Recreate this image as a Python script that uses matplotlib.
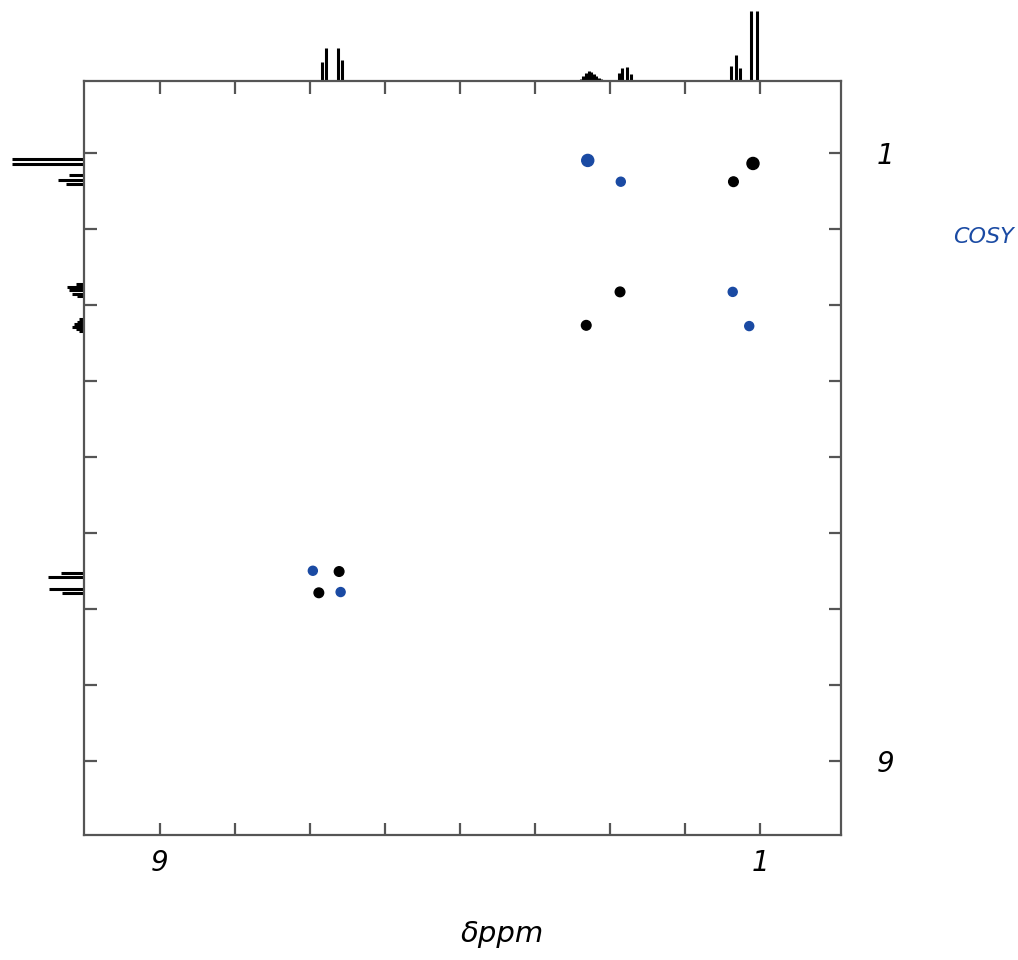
import matplotlib
matplotlib.use("Agg")
import matplotlib.pyplot as plt
import matplotlib.transforms as mtrans
import numpy as np

# cross peaks (f2 ppm on x, f1 ppm on y)
black_x = [6.61, 6.88, 1.10, 1.36, 2.87, 3.32]
black_y = [6.51, 6.79, 1.14, 1.38, 2.83, 3.27]
black_big = [False, False, True, False, False, False]
blue_x = [6.96, 6.59, 3.30, 2.86, 1.37, 1.15]
blue_y = [6.50, 6.78, 1.10, 1.38, 2.83, 3.28]
blue_big = [False, False, True, False, False, False]

# 1D projection on top (ppm, relative intensity)
top_ppm = [6.84, 6.78, 6.63, 6.57,
           3.39, 3.36, 3.32, 3.28, 3.25, 3.22, 3.19, 3.15, 3.12,
           2.89, 2.84, 2.78, 2.73,
           1.39, 1.33, 1.27, 1.12, 1.05]
top_int = [0.27, 0.47, 0.47, 0.30,
           0.03, 0.06, 0.11, 0.14, 0.12, 0.09, 0.06, 0.04, 0.02,
           0.11, 0.18, 0.20, 0.10,
           0.21, 0.36, 0.18, 1.0, 1.0]

# 1D projection on the left (ppm, relative intensity)
left_ppm = [1.08, 1.15, 1.29, 1.36, 1.41,
            2.73, 2.77, 2.81, 2.86, 2.88,
            3.19, 3.22, 3.25, 3.29, 3.32, 3.35,
            6.53, 6.58, 6.74, 6.79]
left_int = [1.0, 1.0, 0.21, 0.37, 0.25,
            0.12, 0.24, 0.22, 0.17, 0.11,
            0.07, 0.11, 0.15, 0.17, 0.12, 0.08,
            0.32, 0.50, 0.49, 0.31]

ticks = [1, 2, 3, 4, 5, 6, 7, 8, 9]
tick_labels = ["1", "", "", "", "", "", "", "", "9"]

blue = "#1a4aa3"
frame = "#555555"

fig = plt.figure(figsize=(10.18, 9.6), dpi=100)
ax = fig.add_axes([0.083, 0.130, 0.743, 0.786])

ax.scatter(black_x, black_y, s=[75 if b else 48 for b in black_big],
           color="black", zorder=3)
ax.scatter(blue_x, blue_y, s=[75 if b else 42 for b in blue_big],
           color=blue, zorder=3)

ax.set_xlim(10, -0.07)
ax.set_ylim(9.98, 0.05)

# top projection, heights in axes fraction
scale_top = 70 / 755
tr_top = mtrans.blended_transform_factory(ax.transData, ax.transAxes)
ax.vlines(top_ppm, 1, [1 + v * scale_top for v in top_int], colors="black",
          lw=2.2, transform=tr_top, clip_on=False)

scale_left = 72 / 756
tr_left = mtrans.blended_transform_factory(ax.transAxes, ax.transData)
ax.hlines(left_ppm, [-v * scale_left for v in left_int], 0, colors="black",
          lw=2.2, transform=tr_left, clip_on=False)

for s in ax.spines.values():
    s.set_color(frame)
    s.set_linewidth(1.6)

ax.set_xticks(ticks)
ax.set_xticklabels(tick_labels)
ax.set_yticks(ticks)
ax.set_yticklabels(tick_labels)
ax.tick_params(direction="in", length=9, width=1.6, color=frame,
               top=True, right=True, left=True, bottom=True,
               labelleft=False, labelright=True, labelsize=20, pad=10)
ax.tick_params(axis="y", pad=26)
for lab in ax.get_xticklabels() + ax.get_yticklabels():
    lab.set_fontstyle("italic")

ax.set_xlabel("δppm", fontsize=21, fontstyle="italic")
ax.xaxis.set_label_coords(0.552, -0.112)
fig.text(0.966, 0.753, "COSY", color=blue, fontsize=16, fontstyle="italic",
         ha="center", va="center")

fig.savefig("out.png", dpi=100)
